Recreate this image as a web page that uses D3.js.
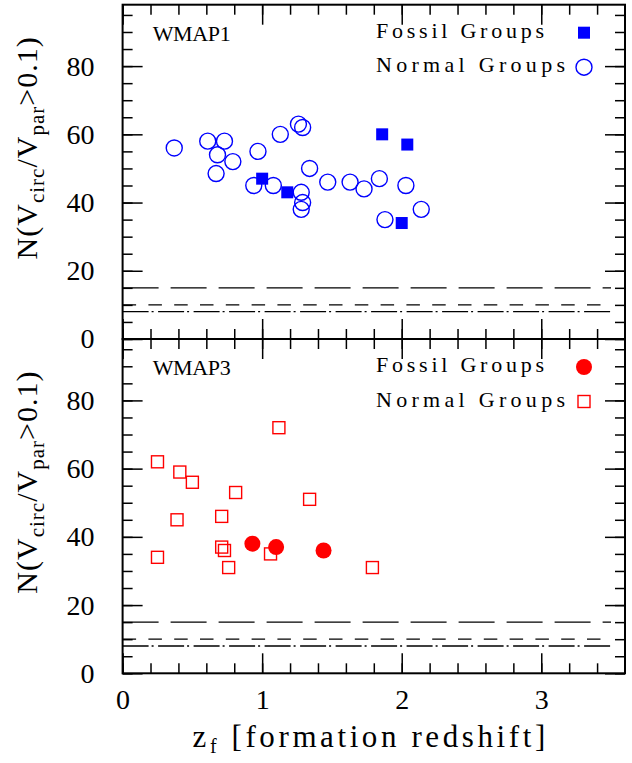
<!DOCTYPE html>
<html>
<head>
<meta charset="utf-8">
<script src="https://cdn.jsdelivr.net/npm/d3@7"></script>
<style>
  html, body { margin: 0; padding: 0; background: #fff; }
  svg { display: block; }
  text { font-family: "Liberation Serif", "DejaVu Serif", serif; fill: #000; }
</style>
</head>
<body>
<script>
// ********************************** //
// ** Data
// ********************************** //
const panelNames = ["WMAP1", "WMAP3"];
const legendLabels = ["Fossil Groups", "Normal Groups"];

// WMAP1: fossil groups (filled squares), normal groups (open circles)
const w1FossilZ = [1.0, 1.18, 1.86, 2.04, 2.0];
const w1FossilN = [47, 43, 60, 57, 34];
const w1NormalZ = [0.37, 0.61, 0.73, 0.68, 0.79, 0.67, 0.97, 1.13, 1.26, 1.29, 1.34, 0.94,
  1.08, 1.28, 1.29, 1.28, 1.47, 1.63, 1.73, 1.84, 2.03, 1.88, 2.14];
const w1NormalN = [56, 58, 58, 54, 52, 48.5, 55, 60, 63, 62, 50, 45,
  45, 43, 40, 38, 46, 46, 44, 47, 45, 35, 38];

// WMAP3: fossil groups (filled circles), normal groups (open squares)
const w3FossilZ = [0.93, 1.1, 1.44];
const w3FossilN = [38, 37, 36];
const w3NormalZ = [1.12, 0.25, 0.41, 0.5, 0.81, 1.34, 0.39, 0.71, 0.25, 0.71, 0.73, 0.76, 1.06, 1.79];
const w3NormalN = [72, 62, 59, 56, 53, 51, 45, 46, 34, 37, 36, 31, 35, 31];

// horizontal reference levels (long dash, short dash, dash-dot)
const levels = [15, 10, 8];
const levelEndZ = 3.5;

const xMajorTicks = [0, 1, 2, 3];
const xMinorTicks = d3.range(0, 18).map(i => +(i * 0.2).toFixed(1));
const yMajorTicks = [0, 20, 40, 60, 80];
const yMinorTicks = d3.range(0, 20).map(i => i * 5);

const onReady = () => {
  const width = 632;
  const height = 763;
  const left = 122.6, right = 625;
  const panelTops = [4.7, 339];
  const panelBottoms = [339, 673.3];

  const blue = "#0000ff";
  const red = "#ff0000";

  const svg = d3.select("body")
    .append("svg")
    .attr("width", width)
    .attr("height", height);

  const x = d3.scaleLinear().domain([0, 3.6]).range([left, right]);
  const dashes = ["36,12", "13.5,12.3", "26,3,2,4.5"];

  const panels = [
    {
      fossil: w1FossilZ.map((z, i) => [z, w1FossilN[i]]),
      normal: w1NormalZ.map((z, i) => [z, w1NormalN[i]]),
      fossilShape: "square", normalShape: "circle", color: blue
    },
    {
      fossil: w3FossilZ.map((z, i) => [z, w3FossilN[i]]),
      normal: w3NormalZ.map((z, i) => [z, w3NormalN[i]]),
      fossilShape: "circle", normalShape: "square", color: red
    }
  ];

  // draw a marker of given shape at (cx, cy)
  const marker = (g, shape, filled, color, cx, cy) => {
    if (shape === "circle") {
      g.append("circle")
        .attr("cx", cx).attr("cy", cy).attr("r", 8)
        .attr("fill", filled ? color : "none")
        .attr("stroke", color)
        .attr("stroke-width", filled ? 0 : 1.4);
    } else if (filled) {
      g.append("rect")
        .attr("x", cx - 6).attr("y", cy - 6)
        .attr("width", 12).attr("height", 12)
        .attr("fill", color);
    } else {
      g.append("rect")
        .attr("x", cx - 6).attr("y", cy - 6)
        .attr("width", 12).attr("height", 12)
        .attr("fill", "none")
        .attr("stroke", color)
        .attr("stroke-width", 1.4);
    }
  };

  const styleTicks = sel => {
    sel.select(".domain").remove();
    sel.selectAll(".tick line").attr("stroke", "#000").attr("stroke-width", 1.5);
    sel.selectAll("text")
      .attr("font-family", "Liberation Serif, DejaVu Serif, serif")
      .attr("font-size", 28)
      .attr("fill", "#000");
  };

  panels.forEach((p, pi) => {
    const top = panelTops[pi];
    const bottom = panelBottoms[pi];
    const y = d3.scaleLinear().domain([0, 98]).range([bottom, top]);
    const g = svg.append("g").attr("class", "panel");

    // ********************************** //
    // ** Axes (ticks point inward on all four sides)
    // ********************************** //
    const isLast = pi === panels.length - 1;

    g.append("g").attr("transform", `translate(0,${bottom})`)
      .call(d3.axisBottom(x).tickValues(xMinorTicks).tickSize(-10).tickFormat(""))
      .call(styleTicks);
    g.append("g").attr("transform", `translate(0,${bottom})`)
      .call(d3.axisBottom(x).tickValues(xMajorTicks).tickSize(-20).tickPadding(16)
        .tickFormat(isLast ? d3.format("d") : ""))
      .call(styleTicks);
    g.append("g").attr("transform", `translate(0,${top})`)
      .call(d3.axisTop(x).tickValues(xMinorTicks).tickSize(-10).tickFormat(""))
      .call(styleTicks);
    g.append("g").attr("transform", `translate(0,${top})`)
      .call(d3.axisTop(x).tickValues(xMajorTicks).tickSize(-20).tickFormat(""))
      .call(styleTicks);

    g.append("g").attr("transform", `translate(${left},0)`)
      .call(d3.axisLeft(y).tickValues(yMinorTicks).tickSize(-10).tickFormat(""))
      .call(styleTicks);
    g.append("g").attr("transform", `translate(${left},0)`)
      .call(d3.axisLeft(y).tickValues(yMajorTicks).tickSize(-20).tickPadding(28).tickFormat(d3.format("d")))
      .call(styleTicks);
    g.append("g").attr("transform", `translate(${right},0)`)
      .call(d3.axisRight(y).tickValues(yMinorTicks).tickSize(-10).tickFormat(""))
      .call(styleTicks);
    g.append("g").attr("transform", `translate(${right},0)`)
      .call(d3.axisRight(y).tickValues(yMajorTicks).tickSize(-20).tickFormat(""))
      .call(styleTicks);

    // frame
    g.append("rect")
      .attr("x", left).attr("y", top)
      .attr("width", right - left).attr("height", bottom - top)
      .attr("fill", "none").attr("stroke", "#000").attr("stroke-width", 2);

    // reference levels
    g.selectAll("line.level")
      .data(levels)
      .join("line")
      .attr("class", "level")
      .attr("x1", x(0)).attr("x2", x(levelEndZ))
      .attr("y1", d => y(d)).attr("y2", d => y(d))
      .attr("stroke", "#000")
      .attr("stroke-width", 1.3)
      .attr("stroke-dasharray", (d, i) => dashes[i]);

    // points
    const pts = g.append("g").attr("class", "points");
    p.normal.forEach(d => marker(pts, p.normalShape, false, p.color, x(d[0]), y(d[1])));
    p.fossil.forEach(d => marker(pts, p.fossilShape, true, p.color, x(d[0]), y(d[1])));

    // panel name
    g.append("text")
      .attr("x", 152.7).attr("y", top + 36)
      .attr("font-size", 22)
      .attr("textLength", 78)
      .attr("lengthAdjust", "spacing")
      .text(panelNames[pi]);

    // legend
    const legend = g.append("g").attr("class", "legend");
    const legendWidths = [168, 189];
    legendLabels.forEach((label, li) => {
      legend.append("text")
        .attr("x", 376).attr("y", top + 33 + li * 34.5)
        .attr("font-size", 22)
        .attr("textLength", legendWidths[li])
        .attr("lengthAdjust", "spacing")
        .text(label);
      const shape = li === 0 ? p.fossilShape : p.normalShape;
      marker(legend, shape, li === 0, p.color, 584, top + 28 + li * 34.5);
    });

    // y axis title
    const yt = g.append("text")
      .attr("transform", `translate(37,${(top + bottom) / 2 - 24}) rotate(-90)`)
      .attr("text-anchor", "middle")
      .attr("font-size", 30)
      .attr("letter-spacing", 1);
    yt.append("tspan").text("N(V");
    yt.append("tspan").attr("dy", 7).attr("font-size", 21).text("circ");
    yt.append("tspan").attr("dy", -7).text("/V");
    yt.append("tspan").attr("dy", 7).attr("font-size", 21).text("par");
    yt.append("tspan").attr("dy", -7).text(">0.1)");
  });

  // x axis title
  const xt = svg.append("text")
    .attr("x", 370.7).attr("y", 747)
    .attr("text-anchor", "middle")
    .attr("font-size", 31)
    .attr("letter-spacing", 3.6);
  xt.append("tspan").text("z");
  xt.append("tspan").attr("dy", 6).attr("font-size", 20).text("f");
  xt.append("tspan").attr("dy", -6).text(" [formation redshift]");
};
document.addEventListener("DOMContentLoaded", onReady);
</script>
</body>
</html>
